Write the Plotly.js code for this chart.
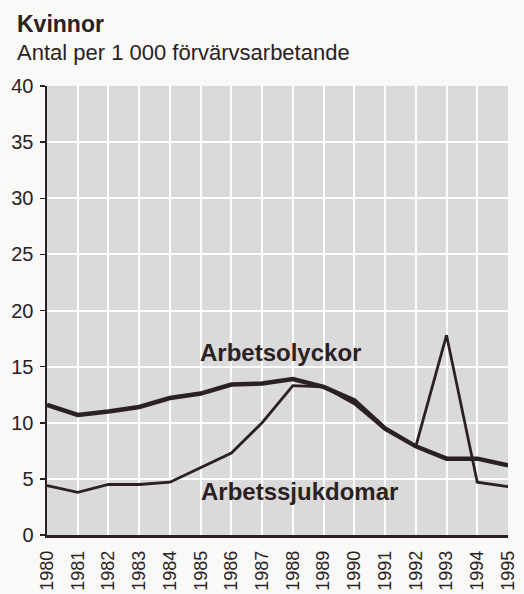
<!DOCTYPE html>
<html><head><meta charset="utf-8">
<script src="https://cdn.plot.ly/plotly-3.0.1.min.js"></script>
<style>body{margin:0;background:#f9f9f7}#c{width:524px;height:594px}</style>
</head><body><div id="c"></div>
<script>
const years = [1980,1981,1982,1983,1984,1985,1986,1987,1988,1989,1990,1991,1992,1993,1994,1995];
const arbetsolyckor = [11.6,10.7,11.0,11.4,12.2,12.6,13.4,13.5,13.9,13.2,12.0,9.5,7.9,6.8,6.8,6.2];
const arbetssjukdomar = [4.4,3.8,4.5,4.5,4.7,6.0,7.3,10.0,13.3,13.2,11.7,9.4,7.9,17.8,4.7,4.3];
const yTicks = [0,5,10,15,20,25,30,35,40];
const lineColor = '#2b2023';

const traces = [
  {x: years, y: arbetssjukdomar, mode: 'lines', line: {color: lineColor, width: 2.8}, hoverinfo: 'skip'},
  {x: years, y: arbetsolyckor, mode: 'lines', line: {color: lineColor, width: 4.5}, hoverinfo: 'skip'}
];

const W = 461, H = 449;
const layout = {
  width: 524, height: 594,
  margin: {l: 47, r: 16, t: 86, b: 59},
  paper_bgcolor: '#f9f9f7',
  plot_bgcolor: '#dadada',
  showlegend: false,
  font: {family: 'Liberation Sans, Arial, sans-serif', color: '#2b2023'},
  xaxis: {
    range: [1980, 1995], tickvals: years, ticktext: years.map(String),
    tickangle: -90, tickfont: {size: 18}, ticklabelstandoff: 6,
    showgrid: true, gridcolor: '#ffffff', gridwidth: 2,
    showline: true, linecolor: lineColor, linewidth: 2.5,
    ticks: '', zeroline: false, fixedrange: true
  },
  yaxis: {
    range: [0, 40], tickvals: yTicks, tickfont: {size: 20},
    showgrid: true, gridcolor: '#ffffff', gridwidth: 2,
    showline: true, linecolor: lineColor, linewidth: 2.5,
    ticks: 'outside', ticklen: 5, tickwidth: 1.5, tickcolor: lineColor,
    ticklabelstandoff: 2,
    zeroline: false, fixedrange: true
  },
  annotations: [
    {xref: 'paper', yref: 'paper', x: -32/W, y: 1 + 62/H, xanchor: 'left', yanchor: 'middle',
     text: '<b>Kvinnor</b>', showarrow: false, font: {size: 23, color: '#2b2023'}},
    {xref: 'paper', yref: 'paper', x: -32/W, y: 1 + 34/H, xanchor: 'left', yanchor: 'middle',
     text: 'Antal per 1 000 förvärvsarbetande', showarrow: false, font: {size: 22, color: '#2b2023'}},
    {x: 1987.6, y: 16.3, text: '<b>Arbetsolyckor</b>', showarrow: false, font: {size: 24, color: '#2b2023'}},
    {x: 1988.2, y: 3.85, text: '<b>Arbetssjukdomar</b>', showarrow: false, font: {size: 24, color: '#2b2023'}}
  ]
};

Plotly.newPlot('c', traces, layout, {staticPlot: true, displayModeBar: false});
</script></body></html>
